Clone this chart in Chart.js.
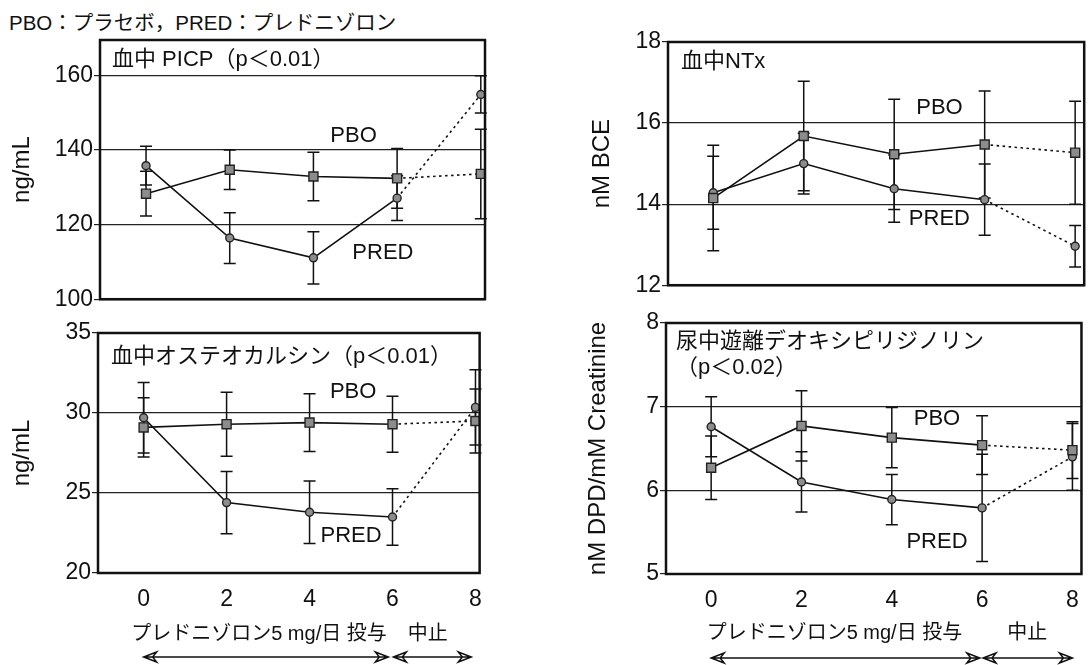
<!DOCTYPE html>
<html lang="ja">
<head>
<meta charset="utf-8">
<title>プレドニゾロン投与と骨代謝マーカー</title>
<script src="https://cdn.jsdelivr.net/npm/chart.js@4.4.1/dist/chart.umd.min.js"></script>
<style>
  html, body { margin: 0; padding: 0; background: #fff; overflow: hidden; }
  body { width: 1092px; height: 665px; position: relative; font-family: "Liberation Sans", "Noto Sans CJK JP", sans-serif; }
  canvas { position: absolute; }
  #header { position: absolute; left: 9px; top: 6px; font-size: 20.5px; color: #111; white-space: nowrap; }
</style>
</head>
<body>
<div id="header">PBO：プラセボ，PRED：プレドニゾロン</div>
<canvas id="picp" width="497" height="290" style="left:0;top:24px"></canvas>
<canvas id="oc" width="495" height="348" style="left:0;top:317px"></canvas>
<canvas id="ntx" width="512" height="274" style="left:580px;top:26px"></canvas>
<canvas id="dpd" width="512" height="358" style="left:580px;top:307px"></canvas>
<script>
// 週 (x軸)
const weeks = [0, 2, 4, 6, 8];

// 血中 PICP (ng/mL)
const picpTicks = [100, 120, 140, 160];
const picpPbo = [128.3, 134.7, 132.9, 132.4, 133.6];
const picpPboSd = [6.0, 5.3, 6.5, 8.0, 12.0];
const picpPred = [135.8, 116.4, 111.1, 127.1, 154.9];
const picpPredSd = [5.2, 6.8, 7.0, 6.0, 5.0];

// 血中オステオカルシン (ng/mL)
const ocTicks = [20, 25, 30, 35];
const ocPbo = [29.1, 29.3, 29.4, 29.3, 29.5];
const ocPboSd = [1.85, 2.0, 1.8, 1.75, 2.0];
const ocPred = [29.7, 24.4, 23.8, 23.5, 30.35];
const ocPredSd = [2.2, 1.95, 1.95, 1.76, 2.35];

// 血中NTx (nM BCE)
const ntxTicks = [12, 14, 16, 18];
const ntxPbo = [14.15, 15.68, 15.23, 15.47, 15.27];
const ntxPboSd = [1.3, 1.35, 1.36, 1.32, 1.27];
const ntxPred = [14.28, 15.0, 14.38, 14.11, 12.96];
const ntxPredSd = [0.9, 0.75, 0.83, 0.88, 0.51];

// 尿中遊離デオキシピリジノリン (nM DPD/mM Creatinine)
const dpdTicks = [5, 6, 7, 8];
const dpdPbo = [6.27, 6.77, 6.63, 6.54, 6.48];
const dpdPboSd = [0.38, 0.42, 0.36, 0.35, 0.34];
const dpdPred = [6.76, 6.10, 5.89, 5.79, 6.40];
const dpdPredSd = [0.36, 0.36, 0.30, 0.64, 0.40];

const FONT = '"Liberation Sans", "Noto Sans CJK JP", sans-serif';
const INK = '#111';
Chart.defaults.font.family = FONT;
Chart.defaults.color = INK;

function drawArrow(ctx, x1, x2, y) {
    const head = (tip, dir) => {
        ctx.moveTo(tip + dir * 13, y - 5);
        ctx.lineTo(tip, y);
        ctx.lineTo(tip + dir * 13, y + 5);
        ctx.lineTo(tip + dir * 9, y);
        ctx.closePath();
    };
    ctx.beginPath();
    ctx.moveTo(x1, y);
    ctx.lineTo(x2, y);
    head(x1, 1);
    head(x2, -1);
    ctx.stroke();
}

// エラーバー・枠・注記
const panelDecor = {
    id: 'panelDecor',
    beforeDatasetsDraw(chart) {
        const { ctx, scales: { x, y } } = chart;
        ctx.save();
        ctx.strokeStyle = INK;
        ctx.lineWidth = 1.5;
        chart.data.datasets.forEach(ds => {
            ds.data.forEach((p, i) => {
                const px = x.getPixelForValue(p.x);
                const top = y.getPixelForValue(p.y + ds.sd[i]);
                const bot = y.getPixelForValue(p.y - ds.sd[i]);
                ctx.beginPath();
                ctx.moveTo(px, top); ctx.lineTo(px, bot);
                ctx.moveTo(px - 6, top); ctx.lineTo(px + 6, top);
                ctx.moveTo(px - 6, bot); ctx.lineTo(px + 6, bot);
                ctx.stroke();
            });
        });
        ctx.restore();
    },
    afterDraw(chart, args, opts) {
        const { ctx, chartArea: a, scales: { x, y } } = chart;
        ctx.save();
        ctx.strokeStyle = INK;
        ctx.fillStyle = INK;
        ctx.lineWidth = 2.5;
        ctx.strokeRect(a.left, a.top, a.right - a.left, a.bottom - a.top);

        ctx.textBaseline = 'middle';
        ctx.textAlign = 'left';
        ctx.font = '22px ' + FONT;
        opts.title.forEach((line, k) => ctx.fillText(line, a.left + opts.titleDx, a.top + opts.titleDy + k * 26));

        ctx.textAlign = 'center';
        ctx.font = '22px ' + FONT;
        opts.labels.forEach(l => ctx.fillText(l.text, x.getPixelForValue(l.x), y.getPixelForValue(l.y)));

        const c = opts.caption;
        if (c) {
            ctx.font = '20px ' + FONT;
            ctx.textAlign = 'left';
            ctx.fillText('プレドニゾロン5 mg/日 投与', x.getPixelForValue(c.doseX), a.bottom + c.textDy);
            ctx.textAlign = 'center';
            ctx.fillText('中止', x.getPixelForValue(c.stopX), a.bottom + c.textDy);
            ctx.lineWidth = 1.5;
            c.arrows.forEach(([from, to]) => drawArrow(ctx, x.getPixelForValue(from), x.getPixelForValue(to), a.bottom + c.arrowDy));
        }
        ctx.restore();
    }
};

function series(label, values, sd, style, radius) {
    return {
        label: label,
        data: weeks.map((w, i) => ({ x: w, y: values[i] })),
        sd: sd,
        borderColor: INK,
        borderWidth: 1.6,
        pointStyle: style,
        pointRadius: radius,
        pointBackgroundColor: '#8c8c8c',
        pointBorderColor: '#222',
        pointBorderWidth: 1.4,
        segment: { borderDash: c => c.p0DataIndex >= 3 ? [2.5, 3.5] : undefined }
    };
}

function panel(id, cfg) {
    new Chart(document.getElementById(id), {
        type: 'line',
        data: {
            datasets: [
                series('PBO', cfg.pbo, cfg.pboSd, 'rect', 6.4),
                series('PRED', cfg.pred, cfg.predSd, 'circle', 4)
            ]
        },
        options: {
            responsive: false,
            animation: false,
            layout: { padding: cfg.padding },
            plugins: {
                legend: { display: false },
                tooltip: { enabled: false },
                panelDecor: cfg.decor
            },
            scales: {
                x: {
                    type: 'linear',
                    min: cfg.xRange[0],
                    max: cfg.xRange[1],
                    afterBuildTicks: s => { s.ticks = weeks.map(v => ({ value: v })); },
                    afterFit: s => { s.height = cfg.xHeight; },
                    grid: { display: false, drawTicks: false },
                    border: { display: false },
                    ticks: { display: cfg.showX, padding: 13, font: { size: 23 } }
                },
                y: {
                    min: cfg.yTicks[0],
                    max: cfg.yMax,
                    afterBuildTicks: s => { s.ticks = cfg.yTicks.map(v => ({ value: v })); },
                    afterFit: s => { s.width = cfg.yWidth; },
                    grid: { color: '#222', lineWidth: 1.2, tickLength: 6 },
                    border: { display: false },
                    ticks: { padding: 1, font: { size: 23 } },
                    title: {
                        display: true,
                        text: cfg.yTitle,
                        font: { size: 24 },
                        padding: { top: cfg.titlePad, bottom: 4 }
                    }
                }
            }
        },
        plugins: [panelDecor]
    });
}

panel('picp', {
    pbo: picpPbo, pboSd: picpPboSd, pred: picpPred, predSd: picpPredSd,
    yTicks: picpTicks, yMax: 169.5, yTitle: 'ng/mL', titlePad: 8,
    xRange: [-1.1, 8.1], showX: false, xHeight: 14, yWidth: 100,
    padding: { top: 16, right: 12, bottom: 0, left: 0 },
    decor: {
        title: ['血中 PICP（p＜0.01）'], titleDx: 12, titleDy: 20,
        labels: [{ text: 'PBO', x: 4.96, y: 143.7 }, { text: 'PRED', x: 5.66, y: 112.3 }]
    }
});

panel('oc', {
    pbo: ocPbo, pboSd: ocPboSd, pred: ocPred, predSd: ocPredSd,
    yTicks: ocTicks, yMax: 35, yTitle: 'ng/mL', titlePad: 8,
    xRange: [-1.1, 8.1], showX: true, xHeight: 40, yWidth: 98,
    padding: { top: 16, right: 12, bottom: 52, left: 0 },
    decor: {
        title: ['血中オステオカルシン（p＜0.01）'], titleDx: 13, titleDy: 24,
        labels: [{ text: 'PBO', x: 5.05, y: 31.3 }, { text: 'PRED', x: 5.0, y: 22.3 }],
        caption: { doseX: -0.3, stopX: 6.85, textDy: 61, arrowDy: 84, arrows: [[0, 5.9], [6.02, 7.9]] }
    }
});

panel('ntx', {
    pbo: ntxPbo, pboSd: ntxPboSd, pred: ntxPred, predSd: ntxPredSd,
    yTicks: ntxTicks, yMax: 18, yTitle: 'nM BCE', titlePad: 8,
    xRange: [-1.0, 8.2], showX: false, xHeight: 14, yWidth: 88,
    padding: { top: 16, right: 3, bottom: 0, left: 0 },
    decor: {
        title: ['血中NTx'], titleDx: 13, titleDy: 20,
        labels: [{ text: 'PBO', x: 5.0, y: 16.37 }, { text: 'PRED', x: 5.0, y: 13.63 }]
    }
});

panel('dpd', {
    pbo: dpdPbo, pboSd: dpdPboSd, pred: dpdPred, predSd: dpdPredSd,
    yTicks: dpdTicks, yMax: 8, yTitle: 'nM DPD/mM Creatinine', titlePad: 4,
    xRange: [-1.0, 8.2], showX: true, xHeight: 40, yWidth: 86,
    padding: { top: 16, right: 3, bottom: 51, left: 0 },
    decor: {
        title: ['尿中遊離デオキシピリジノリン', '（p＜0.02）'], titleDx: 10, titleDy: 19,
        labels: [{ text: 'PBO', x: 5.0, y: 6.85 }, { text: 'PRED', x: 5.0, y: 5.38 }],
        caption: { doseX: -0.1, stopX: 7.0, textDy: 59, arrowDy: 84, arrows: [[0, 5.95], [6.02, 8.0]] }
    }
});
</script>
</body>
</html>
